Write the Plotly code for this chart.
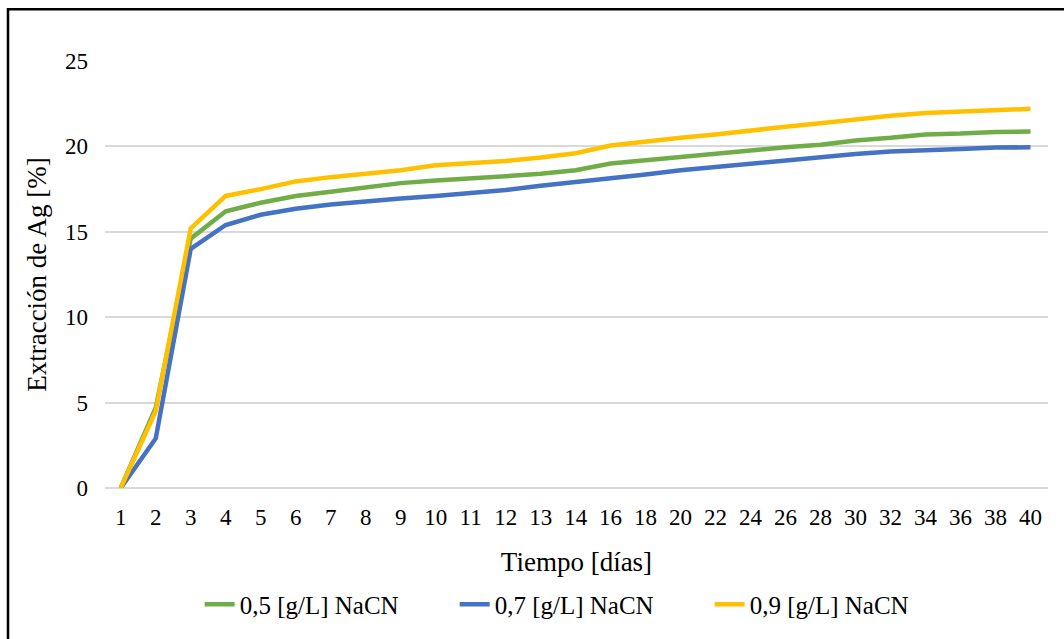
import plotly.graph_objects as go

dias = ["1", "2", "3", "4", "5", "6", "7", "8", "9", "10", "11", "12", "13", "14",
        "16", "18", "20", "22", "24", "26", "28", "30", "32", "34", "36", "38", "40"]

nacn_05 = [0, 4.7, 14.6, 16.2, 16.7, 17.1, 17.35, 17.6, 17.85, 18.0, 18.1, 18.25, 18.4, 18.6,
           19.0, 19.2, 19.35, 19.55, 19.75, 19.95, 20.1, 20.35, 20.5, 20.7, 20.75, 20.85, 20.87]
nacn_07 = [0, 2.9, 14.0, 15.4, 16.0, 16.35, 16.6, 16.8, 16.95, 17.1, 17.25, 17.45, 17.7, 17.9,
           18.15, 18.35, 18.6, 18.8, 18.95, 19.15, 19.4, 19.55, 19.7, 19.75, 19.85, 19.93, 19.95]
nacn_09 = [0, 4.5, 15.2, 17.1, 17.5, 17.95, 18.2, 18.4, 18.6, 18.9, 19.0, 19.15, 19.35, 19.6,
           20.05, 20.3, 20.5, 20.7, 20.95, 21.15, 21.35, 21.6, 21.8, 21.95, 22.05, 22.15, 22.2]

series_names = ["0,5 [g/L] NaCN", "0,7 [g/L] NaCN", "0,9 [g/L] NaCN"]
series_colors = ["#70AD47", "#4472C4", "#FFC000"]

fig = go.Figure()
for name, vals, col in zip(series_names, [nacn_05, nacn_07, nacn_09], series_colors):
    fig.add_trace(go.Scatter(x=dias, y=vals, mode="lines", name=name,
                             line=dict(color=col, width=4.5)))

font_family = "Liberation Serif, Times New Roman, serif"

fig.update_layout(
    width=1064, height=639,
    margin=dict(l=105, r=16, t=61, b=149),
    paper_bgcolor="white", plot_bgcolor="white",
    font=dict(family=font_family, size=23, color="black"),
    showlegend=True,
    legend=dict(orientation="h", x=0.506, xanchor="center", y=-0.273, yanchor="middle",
                font=dict(size=25), traceorder="normal", entrywidth=210),
    xaxis=dict(
        type="category", showgrid=False, zeroline=False, showline=False,
        tickfont=dict(size=23), ticks="", ticklabelstandoff=13,
        title=dict(text="Tiempo [días]", font=dict(size=27), standoff=23),
        range=[-0.45, 26.5],
    ),
    yaxis=dict(
        range=[0, 25], dtick=5, showgrid=True, gridcolor="#D9D9D9", gridwidth=1.5,
        zeroline=True, zerolinecolor="#D9D9D9", zerolinewidth=1.5, showline=False,
        tickfont=dict(size=23), ticks="", ticklabelstandoff=16,
        title=dict(text="Extracción de Ag [%]", font=dict(size=27), standoff=10),
    ),
    shapes=[dict(type="rect", xref="paper", yref="paper",
                 x0=(8 - 105) / 943, x1=(1075 - 105) / 943,
                 y0=(490 - 650) / 429, y1=1 + (61 - 9) / 429,
                 line=dict(color="black", width=2.5), fillcolor="rgba(0,0,0,0)", layer="above")],
)

fig.write_html("out.html")
